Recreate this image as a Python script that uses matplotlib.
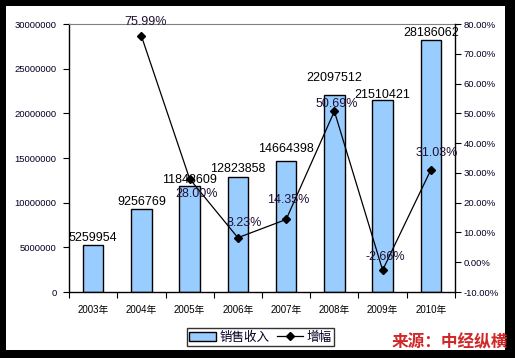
import matplotlib
matplotlib.use("Agg")
import matplotlib.pyplot as plt
from matplotlib.patches import Rectangle
from matplotlib.ticker import FuncFormatter, MultipleLocator
import numpy as np

plt.rcParams['font.family'] = ['Liberation Sans', 'Noto Sans CJK SC', 'DejaVu Sans']

years = ['2003年', '2004年', '2005年', '2006年', '2007年', '2008年', '2009年', '2010年']
sales = [5259954, 9256769, 11848609, 12823858, 14664398, 22097512, 21510421, 28186062]
growth = [None, 75.99, 28.00, 8.23, 14.35, 50.69, -2.66, 31.03]

# label offsets (pixels)
sales_dy = [7, 7.5, 6, 8, 12, 17, 5, 7]
growth_dx = [0, 4, 7, 6, 2, 2, 3, 6]
growth_dy = [0, 14, -15, 15, 19, 7, 13, 17]

W, H = 515, 358
fig = plt.figure(figsize=(W / 100, H / 100), dpi=100)
fig.patch.set_facecolor('black')
fig.patches.append(Rectangle((6 / W, (H - 350) / H), (505 - 6) / W, (350 - 6) / H,
                             transform=fig.transFigure, facecolor='white',
                             edgecolor='none', zorder=-5))

ax_l, ax_r, ax_t, ax_b = 69, 455, 24, 292
ax = fig.add_axes([ax_l / W, (H - ax_b) / H, (ax_r - ax_l) / W, (ax_b - ax_t) / H])
ax.set_facecolor('white')

x = np.arange(len(years))
bars = ax.bar(x, sales, width=0.42, color='#99CCFF', edgecolor='black', linewidth=1,
              zorder=2, label='销售收入')
ax.set_xlim(-0.5, len(years) - 0.5)
ax.set_ylim(0, 30000000)
ax.yaxis.set_major_locator(MultipleLocator(5000000))
ax.yaxis.set_major_formatter(FuncFormatter(lambda v, p: f'{int(v)}'))
ax.set_xticks(x)
ax.set_xticklabels(years)
ax.set_xticks(np.arange(len(years) + 1) - 0.5, minor=True)
ax.tick_params(axis='x', which='major', length=0, pad=9, labelsize=7)
ax.tick_params(axis='x', which='minor', length=4, direction='out', width=0.8)
ax.tick_params(axis='y', length=4, direction='out', width=0.8, labelsize=6.8, pad=5)
for lab in ax.get_yticklabels():
    lab.set_color('#000022')

for s in ['left', 'bottom']:
    ax.spines[s].set_linewidth(1)
ax.spines['top'].set_color('#808080')
ax.spines['right'].set_visible(False)

for i, v in enumerate(sales):
    ax.annotate(str(v), (x[i], v), xytext=(0, sales_dy[i] * 0.72), textcoords='offset points',
                ha='center', va='center', fontsize=9, color='black', zorder=5)

ax2 = ax.twinx()
ax2.set_ylim(-10, 80)
ax2.yaxis.set_major_locator(MultipleLocator(10))
ax2.yaxis.set_major_formatter(FuncFormatter(lambda v, p: f'{v:.2f}%'))
ax2.tick_params(axis='y', length=4, direction='out', width=0.8, labelsize=6.8, pad=2)
for lab in ax2.get_yticklabels():
    lab.set_color('#000022')
ax2.spines['right'].set_linewidth(1)
for s in ['top', 'left', 'bottom']:
    ax2.spines[s].set_visible(False)

gx = [x[i] for i, g in enumerate(growth) if g is not None]
gy = [g for g in growth if g is not None]
line, = ax2.plot(gx, gy, color='black', linewidth=0.9, marker='D', markersize=4.5,
                 markerfacecolor='black', markeredgecolor='black', label='增幅', zorder=4)
for i, g in enumerate(growth):
    if g is None:
        continue
    ax2.annotate(f'{g:.2f}%', (x[i], g), xytext=(growth_dx[i] * 0.72, growth_dy[i] * 0.72),
                 textcoords='offset points', ha='center', va='center',
                 fontsize=9, color='#221133', zorder=6)

leg = fig.legend([bars, line], ['销售收入', '增幅'], loc='center',
                 bbox_to_anchor=(260.5 / W, (H - 337) / H), ncol=2, frameon=True,
                 fancybox=False, edgecolor='black', fontsize=9, handlelength=2.1,
                 handleheight=0.7, columnspacing=0.6, handletextpad=0.3,
                 borderpad=0.2, borderaxespad=0)
leg.get_frame().set_linewidth(1)
for t in leg.get_texts():
    t.set_color('#000022')
    t.set_family(['Noto Sans CJK SC', 'DejaVu Sans'])

fig.text(450 / W, (H - 342) / H, '来源：中经纵横', ha='center', va='center',
         fontsize=12, fontweight='bold', color='#D02828',
         family=['Noto Sans CJK SC', 'DejaVu Sans'])

fig.savefig('out.png', dpi=100, facecolor=fig.get_facecolor())
